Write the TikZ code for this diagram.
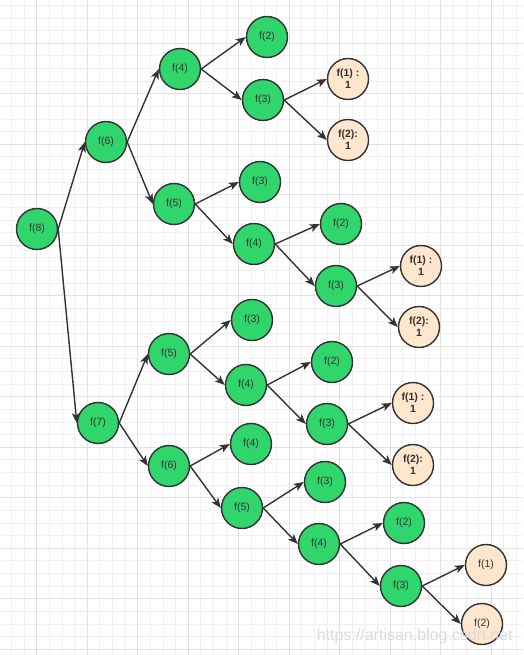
\documentclass[tikz,border=0pt]{standalone}
\usepackage{fontspec}
\setmainfont{Liberation Sans}
\usetikzlibrary{arrows.meta}
\definecolor{fibInk}{HTML}{333333}
\definecolor{fibGreen}{HTML}{30D56C}
\definecolor{fibPeach}{HTML}{FFE6CC}
\definecolor{fibGrid}{HTML}{F0F0F0}
\definecolor{fibGridMajor}{HTML}{E2E2E2}
\definecolor{fibMark}{HTML}{DCDCDC}
\tikzset{
  fib/base/.style={circle, draw=fibInk, line width=1.4pt, minimum size=41pt,
    inner sep=0pt, align=center, text=fibInk, font=\fontsize{10.5}{12}\selectfont},
  fib/call/.style={fib/base, fill=fibGreen},
  fib/leaf/.style={fib/base, fill=fibPeach},
  fib/known/.style={fib/leaf, font=\fontsize{10.5}{12}\selectfont\bfseries},
  fib/arrow/.style={-{Stealth[length=10pt,width=8pt,inset=2.5pt]}, draw=fibInk,
    line width=1.4pt},
  fib/grid/.style={draw=fibGrid, line width=0.9pt},
  fib/major/.style={draw=fibGridMajor, line width=0.9pt},
}

\begin{document}
\begin{tikzpicture}[x=1pt, y=-1pt]
\useasboundingbox (0,0) rectangle (523,655);
\begin{scope}
\clip (0,0) rectangle (523,655);
\fill[white] (0,0) rectangle (523,655);
% background grid
\foreach \i in {0,...,41} {\draw[fib/grid] ({11.45+12.625*\i},0) -- ++(0,655);}
\foreach \i in {0,...,52} {\draw[fib/grid] (0,{5.425+12.625*\i}) -- ++(523,0);}
\foreach \i in {0,...,9} {\draw[fib/major] ({36.7+50.5*\i},0) -- ++(0,655);}
\foreach \i in {0,...,12} {\draw[fib/major] (0,{43.3+50.5*\i}) -- ++(523,0);}
\end{scope}

% call tree
\node[fib/call] (r) at (37,229) {f(8)};
\node[fib/call] (a) at (106,142) {f(6)};
\node[fib/call] (b) at (98,423) {f(7)};

\node[fib/call] (aa) at (180,69) {f(4)};
\node[fib/call] (ab) at (174,204) {f(5)};
\node[fib/call] (aaa) at (267,37) {f(2)};
\node[fib/call] (aab) at (263,100) {f(3)};
\node[fib/known] (aaba) at (348,79) {f(1) :\\1};
\node[fib/known] (aabb) at (348,140) {f(2):\\1};
\node[fib/call] (aba) at (260,182) {f(3)};
\node[fib/call] (abb) at (254,244) {f(4)};
\node[fib/call] (abba) at (341,224) {f(2)};
\node[fib/call] (abbb) at (336,286) {f(3)};
\node[fib/known] (abbba) at (421,266) {f(1) :\\1};
\node[fib/known] (abbbb) at (419,327) {f(2):\\1};

\node[fib/call] (ba) at (169,354) {f(5)};
\node[fib/call] (bb) at (169,466) {f(6)};
\node[fib/call] (baa) at (252,320) {f(3)};
\node[fib/call] (bab) at (246,385) {f(4)};
\node[fib/call] (baba) at (332,362) {f(2)};
\node[fib/call] (babb) at (327,424) {f(3)};
\node[fib/known] (babba) at (413,403) {f(1) :\\1};
\node[fib/known] (babbb) at (413,465) {f(2):\\1};
\node[fib/call] (bba) at (251,444) {f(4)};
\node[fib/call] (bbb) at (242,508) {f(5)};
\node[fib/call] (bbba) at (325,482) {f(3)};
\node[fib/call] (bbbb) at (319,544) {f(4)};
\node[fib/call] (bbbba) at (404,523) {f(2)};
\node[fib/call] (bbbbb) at (401,586) {f(3)};
\node[fib/leaf] (bbbbba) at (486,565) {f(1)};
\node[fib/leaf] (bbbbbb) at (482,624) {f(2)};

% every call points to its two sub-calls
\foreach \p/\c in {r/a, r/b, a/aa, a/ab, aa/aaa, aa/aab, aab/aaba, aab/aabb,
    ab/aba, ab/abb, abb/abba, abb/abbb, abbb/abbba, abbb/abbbb,
    b/ba, b/bb, ba/baa, ba/bab, bab/baba, bab/babb, babb/babba, babb/babbb,
    bb/bba, bb/bbb, bbb/bbba, bbb/bbbb, bbbb/bbbba, bbbb/bbbbb,
    bbbbb/bbbbba, bbbbb/bbbbbb}
  \draw[fib/arrow] (\p.east) -- (\c.west);

\node[text=fibMark, font=\fontsize{16}{18}\selectfont, anchor=east] (mark)
  at (516,636) {https://artisan.blog.csdn.net};
\end{tikzpicture}
\end{document}
